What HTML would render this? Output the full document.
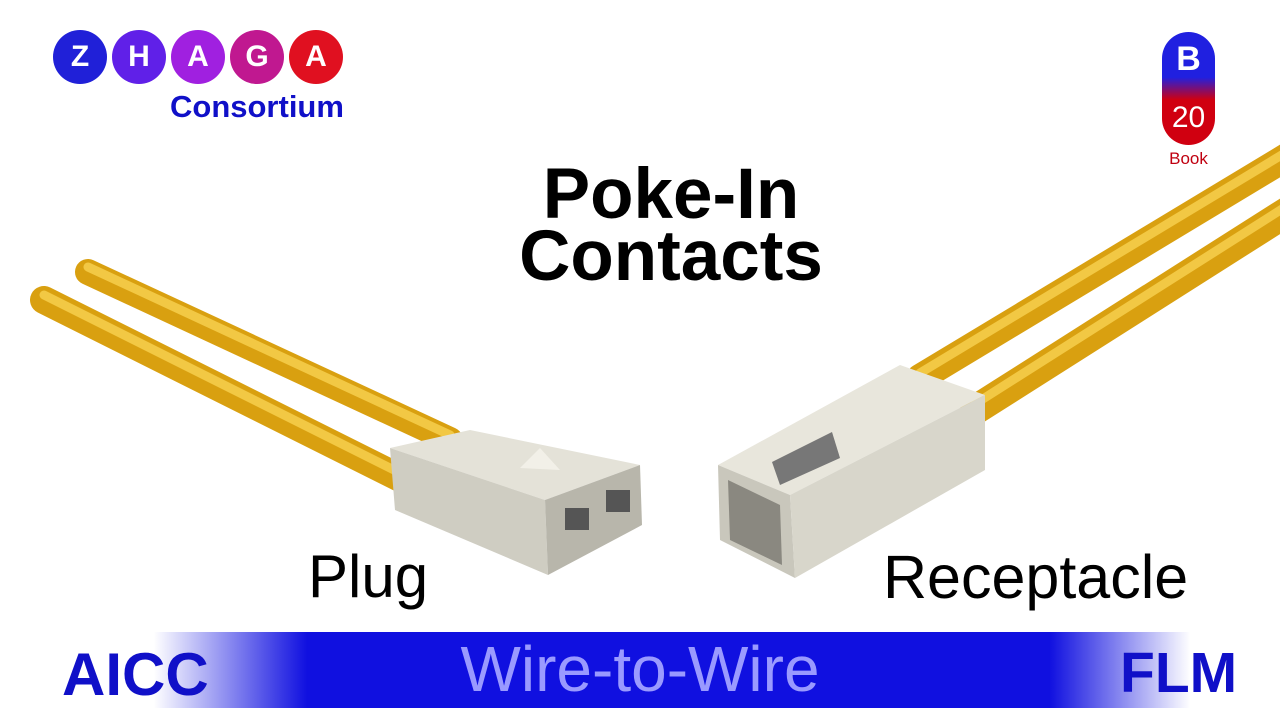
<!DOCTYPE html>
<html><head><style>
body{margin:0;width:1280px;height:720px;background:#fff;position:relative;overflow:hidden;font-family:"Liberation Sans",sans-serif}
.c{position:absolute;width:54px;height:54px;border-radius:50%;color:#fff;font-weight:bold;font-size:30px;text-align:center;line-height:54px;top:30px}
.t{position:absolute;font-weight:bold;color:#000;text-align:center;width:600px;left:371px;font-size:71px;line-height:62px}
</style></head><body>
<svg width="1280" height="720" style="position:absolute;left:0;top:0">
<defs>
<linearGradient id="bar" x1="0" x2="1"><stop offset="0" stop-color="#fff"/><stop offset=".12" stop-color="#fff"/><stop offset=".24" stop-color="#1010e0"/><stop offset=".82" stop-color="#1010e0"/><stop offset=".93" stop-color="#fff"/><stop offset="1" stop-color="#fff"/></linearGradient>
</defs>
<g stroke-linecap="round">
<line x1="88" y1="272" x2="450" y2="440" stroke="#d9a010" stroke-width="26"/>
<line x1="88" y1="267" x2="450" y2="435" stroke="#f2c844" stroke-width="9"/>
<line x1="44" y1="300" x2="400" y2="478" stroke="#d9a010" stroke-width="28"/>
<line x1="44" y1="295" x2="400" y2="473" stroke="#f2c844" stroke-width="9"/>
<line x1="920" y1="378" x2="1290" y2="155" stroke="#d9a010" stroke-width="28"/>
<line x1="920" y1="373" x2="1290" y2="150" stroke="#f2c844" stroke-width="9"/>
<line x1="975" y1="410" x2="1290" y2="210" stroke="#d9a010" stroke-width="30"/>
<line x1="975" y1="404" x2="1290" y2="204" stroke="#f2c844" stroke-width="9"/>
</g>
<polygon points="390,448 470,430 640,465 545,500" fill="#e4e2d8"/>
<polygon points="390,448 545,500 548,575 395,510" fill="#cfcdc2"/>
<polygon points="545,500 640,465 642,525 548,575" fill="#b8b6ab"/>
<rect x="565" y="508" width="24" height="22" fill="#555"/><rect x="606" y="490" width="24" height="22" fill="#555"/>
<polygon points="520,468 540,448 560,470" fill="#f2f0e8"/>
<polygon points="718,465 900,365 985,395 790,495" fill="#e8e6dc"/>
<polygon points="718,465 790,495 795,578 720,540" fill="#c9c7bc"/>
<polygon points="790,495 985,395 985,470 795,578" fill="#d8d6cb"/>
<polygon points="728,480 780,505 782,565 730,540" fill="#8a8880"/>
<polygon points="772,462 832,432 840,458 780,485" fill="#777"/>
<rect x="0" y="632" width="1280" height="76" fill="url(#bar)"/>
</svg>
<div class="c" style="left:53px;background:#2020d8">Z</div>
<div class="c" style="left:112px;background:#6020e8">H</div>
<div class="c" style="left:171px;background:#a020e0">A</div>
<div class="c" style="left:230px;background:#c01890">G</div>
<div class="c" style="left:289px;background:#e01020">A</div>
<div style="position:absolute;left:170px;top:89px;color:#1010c8;font-size:31px;font-weight:bold">Consortium</div>
<div style="position:absolute;left:1162px;top:32px;width:53px;height:113px;border-radius:27px;background:linear-gradient(#2020e0 40%,#d00010 60%)"></div>
<div style="position:absolute;left:1162px;top:40px;width:53px;text-align:center;color:#fff;font-size:34px;font-weight:bold">B</div>
<div style="position:absolute;left:1162px;top:101px;width:53px;text-align:center;color:#fff;font-size:30px">20</div>
<div style="position:absolute;left:1162px;top:149px;width:53px;text-align:center;color:#c00010;font-size:17px">Book</div>
<div class="t" style="top:164px">Poke-In</div>
<div class="t" style="top:226px">Contacts</div>
<div style="position:absolute;left:308px;top:542px;font-size:60px">Plug</div>
<div style="position:absolute;left:883px;top:542px;font-size:61px">Receptacle</div>
<div style="position:absolute;left:62px;top:640px;font-size:60px;font-weight:bold;color:#1010c8">AICC</div>
<div style="position:absolute;left:1120px;top:640px;font-size:57px;font-weight:bold;color:#1010c8">FLM</div>
<div style="position:absolute;left:290px;width:700px;text-align:center;top:632px;font-size:64px;color:#9a9aff">Wire-to-Wire</div>
</body></html>
